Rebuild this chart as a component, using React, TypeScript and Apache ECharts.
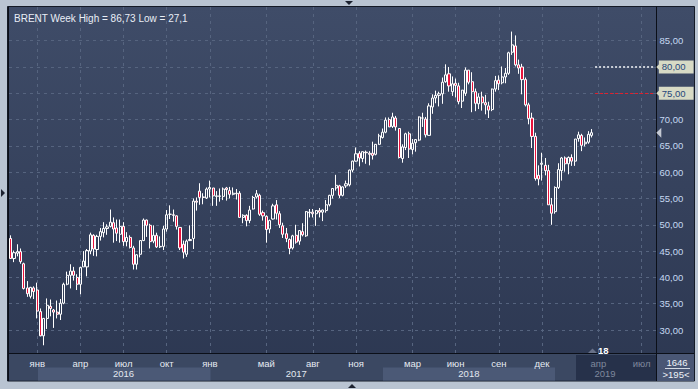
import React, { useEffect, useRef } from 'react';
import * as echarts from 'echarts';

// Weekly bars (Monday of each week), 195 visible slots
const START_WEEK = Date.UTC(2015, 10, 9);
const VISIBLE_BARS = 195;
const weeks: string[] = [];
for (let i = 0; i < VISIBLE_BARS; i++) {
  weeks.push(new Date(START_WEEK + i * 7 * 86400000).toISOString().slice(0, 10));
}

const opens = [
  47.4, 43.6, 44.6, 44.9, 42.6, 38.0, 36.4, 38.0, 37.6, 33.5,
  28.9, 32.2, 34.5, 33.8, 33.4, 33.0, 35.1, 38.7, 40.4, 41.2,
  40.0, 38.7, 42.0, 42.0, 45.0, 48.0, 45.3, 47.8, 48.5, 49.3,
  49.7, 50.4, 49.4, 48.2, 49.7, 46.8, 47.6, 45.6, 42.5, 44.4,
  47.0, 50.9, 49.9, 46.9, 48.0, 45.8, 45.9, 49.2, 52.0, 51.9,
  51.7, 49.5, 46.3, 44.4, 47.0, 47.4, 54.5, 56.4, 55.3, 55.1,
  56.8, 57.0, 55.4, 55.4, 55.4, 57.0, 56.5, 55.8, 56.0, 56.0,
  51.4, 51.8, 50.8, 53.0, 55.3, 55.6, 52.3, 51.6, 49.2, 51.1,
  53.8, 52.1, 49.8, 48.3, 47.2, 45.6, 48.0, 46.9, 48.7, 47.9,
  52.3, 52.4, 52.1, 52.7, 52.4, 52.7, 53.8, 55.6, 57.0, 57.4,
  55.6, 57.4, 57.6, 60.4, 62.1, 63.6, 62.6, 63.8, 63.6, 63.6,
  63.4, 65.3, 66.6, 67.6, 70.0, 68.7, 70.3, 68.3, 62.6, 64.7,
  67.3, 64.3, 65.6, 66.1, 70.3, 70.1, 67.0, 72.4, 74.1, 74.6,
  74.9, 77.2, 78.7, 75.3, 76.9, 76.4, 73.5, 75.0, 79.4, 77.2,
  75.3, 73.0, 74.3, 73.2, 72.6, 71.9, 75.8, 77.5, 77.0, 78.1,
  78.8, 82.8, 84.0, 80.4, 80.0, 77.6, 72.8, 70.3, 66.8, 59.4,
  61.5, 61.3, 60.3, 53.8, 52.5, 57.1, 60.3, 62.7, 61.6, 62.8,
  62.1, 66.4, 67.0, 65.4, 65.7, 67.0,
];
const highs = [
  48.0, 45.1, 46.3, 45.5, 42.8, 39.3, 38.2, 38.3, 39.0, 34.1,
  32.3, 36.0, 35.8, 34.0, 35.6, 35.9, 39.0, 41.1, 42.5, 42.0,
  40.6, 42.0, 45.0, 45.4, 48.5, 48.2, 48.1, 49.4, 50.5, 50.1,
  52.9, 51.4, 51.0, 51.0, 50.5, 48.6, 48.0, 46.0, 44.4, 47.0,
  51.2, 51.0, 50.2, 49.9, 48.5, 47.8, 49.8, 52.8, 53.7, 52.9,
  51.8, 49.6, 47.0, 47.2, 49.9, 55.0, 55.2, 57.9, 56.0, 57.1,
  58.4, 57.0, 56.4, 56.9, 57.1, 57.2, 57.2, 57.1, 56.8, 56.4,
  52.0, 52.0, 53.6, 55.5, 56.6, 55.9, 52.7, 51.8, 51.0, 54.0,
  54.7, 52.6, 50.4, 49.4, 47.4, 48.1, 50.0, 49.0, 50.3, 52.6,
  53.0, 53.0, 52.8, 53.2, 52.9, 54.7, 55.7, 56.9, 59.5, 57.6,
  57.3, 58.4, 60.5, 62.2, 64.7, 64.0, 63.9, 64.1, 64.0, 65.8,
  65.2, 67.3, 68.3, 70.4, 70.4, 71.3, 70.7, 68.4, 65.3, 67.5,
  67.7, 66.3, 66.3, 70.6, 71.3, 70.5, 73.1, 74.8, 75.5, 75.3,
  78.0, 80.5, 80.0, 78.2, 77.8, 77.0, 75.6, 79.9, 79.4, 79.0,
  75.9, 75.0, 75.3, 74.7, 73.4, 75.9, 78.3, 78.4, 80.1, 79.8,
  82.9, 86.73, 86.0, 81.4, 80.6, 78.0, 73.2, 71.3, 67.5, 61.3,
  63.7, 62.7, 61.4, 55.1, 57.3, 61.7, 62.9, 63.0, 63.0, 63.4,
  66.3, 67.7, 67.3, 66.6, 67.8, 68.2,
];
const lows = [
  43.6, 42.9, 44.0, 42.6, 37.7, 36.3, 36.0, 35.9, 32.2, 28.8,
  27.1, 30.2, 32.6, 30.4, 32.2, 31.9, 34.9, 38.5, 37.9, 39.4,
  37.6, 36.8, 42.0, 40.2, 44.4, 44.1, 44.0, 47.0, 47.6, 48.1,
  49.5, 46.6, 46.9, 46.6, 46.0, 45.9, 45.5, 41.5, 41.5, 43.8,
  46.9, 47.7, 45.5, 46.5, 45.6, 45.6, 45.2, 48.7, 51.1, 50.6,
  49.1, 45.2, 43.6, 43.9, 46.9, 45.4, 52.7, 53.8, 53.9, 54.9,
  55.2, 53.6, 53.6, 54.4, 54.7, 54.6, 55.0, 55.6, 54.8, 51.4,
  50.3, 49.7, 50.3, 52.9, 55.0, 51.7, 50.8, 46.6, 48.4, 51.0,
  51.0, 49.4, 47.5, 46.7, 44.4, 45.3, 46.4, 46.2, 47.8, 47.7,
  51.4, 51.4, 49.8, 51.4, 50.7, 52.3, 53.5, 55.0, 56.5, 55.1,
  55.4, 57.0, 57.3, 60.0, 62.0, 61.1, 61.9, 61.6, 61.3, 62.4,
  63.2, 65.2, 66.4, 67.4, 68.6, 68.4, 67.9, 62.6, 61.8, 64.2,
  62.7, 63.4, 63.9, 65.9, 68.6, 66.6, 67.0, 71.1, 73.1, 72.5,
  73.0, 77.0, 75.3, 74.5, 74.2, 72.9, 72.2, 74.5, 76.7, 71.4,
  71.6, 72.0, 71.7, 71.0, 70.3, 71.6, 75.3, 75.6, 76.7, 76.9,
  78.5, 82.3, 80.1, 78.7, 74.8, 72.5, 69.1, 64.6, 58.4, 57.5,
  58.4, 59.4, 53.8, 50.0, 52.1, 56.8, 58.4, 60.1, 59.6, 61.2,
  61.2, 65.8, 64.0, 64.9, 65.4, 66.6,
];
const closes = [
  43.6, 44.7, 44.9, 43.0, 37.9, 36.9, 38.1, 37.3, 33.6, 28.9,
  32.2, 34.7, 34.1, 33.4, 33.0, 35.1, 38.7, 40.4, 41.2, 40.4,
  38.7, 41.9, 43.1, 45.1, 48.1, 45.4, 47.8, 48.7, 49.3, 49.6,
  50.5, 49.2, 48.4, 49.7, 46.8, 47.6, 45.7, 42.5, 44.3, 47.0,
  50.9, 49.9, 46.8, 48.0, 45.8, 45.9, 49.2, 51.9, 52.0, 51.8,
  49.7, 45.6, 44.8, 46.9, 47.2, 54.5, 54.3, 55.2, 55.2, 56.8,
  57.1, 55.5, 55.5, 55.5, 56.8, 56.7, 55.8, 56.0, 55.9, 51.4,
  51.8, 50.8, 52.8, 55.2, 55.9, 52.0, 51.7, 49.1, 50.8, 53.6,
  52.2, 50.0, 48.2, 47.4, 45.5, 47.9, 46.7, 48.9, 48.1, 52.5,
  52.4, 52.1, 52.7, 52.4, 52.8, 53.8, 55.6, 56.9, 57.5, 55.6,
  57.2, 57.8, 60.4, 62.1, 63.5, 62.7, 63.9, 63.7, 63.4, 63.2,
  65.3, 66.9, 67.6, 69.9, 68.6, 70.5, 68.6, 62.8, 64.8, 67.3,
  64.4, 65.5, 66.2, 70.5, 70.3, 67.1, 72.6, 74.1, 74.6, 74.9,
  77.1, 78.5, 76.4, 76.8, 76.5, 73.4, 75.6, 79.4, 77.1, 75.3,
  73.1, 74.3, 73.2, 72.8, 71.8, 75.8, 77.4, 76.8, 78.1, 78.8,
  82.7, 84.2, 80.4, 79.8, 77.6, 72.8, 70.2, 66.8, 58.8, 58.7,
  61.7, 60.3, 53.8, 52.2, 57.1, 60.5, 62.7, 61.6, 62.8, 62.1,
  66.3, 67.1, 65.1, 65.7, 67.2, 67.5,
];

const priceTicks = [30, 35, 40, 45, 50, 55, 60, 65, 70, 75, 80, 85];
const priceLabelTicks = [30, 35, 40, 45, 50, 55, 60, 65, 70, 85];
const monthTickIndex = [8, 21, 34, 47, 60, 77, 91, 104, 121, 134, 147, 160, 177, 190];
const yearTickIndex = [34, 86, 138, 179];
const RU_MONTHS = ['янв', 'фев', 'мар', 'апр', 'май', 'июн', 'июл', 'авг', 'сен', 'окт', 'ноя', 'дек'];
const levelLines = [80, 75];
const lastPrice = 67.5;
const titleText = 'BRENT Week High = 86,73 Low = 27,1';
const totalBars = '1646';
const visibleText = '>195<';
const markerText = '18';

const FONT = "'Liberation Sans', Arial, sans-serif";
const lastDate = weeks[opens.length - 1];
const TAG_LEVEL = '#d7dac5';
const TAG_LAST = '#c4c9d3';

export default function App() {
  const ref = useRef<HTMLDivElement>(null);
  useEffect(() => {
    if (!ref.current) return;
    const chart = echarts.init(ref.current, null, { renderer: 'svg' });
    const monthSet = new Set(monthTickIndex);
    const yearSet = new Set(yearTickIndex);
    const fmt = (v: number) => v.toFixed(2).replace('.', ',');
    const candles = opens.map((o, i) => [o, closes[i], lows[i], highs[i]]);
    const lastIdx = VISIBLE_BARS - 1;

    chart.setOption({
      animation: false,
      backgroundColor: '#b9c4d2',
      textStyle: { fontFamily: FONT },
      title: {
        text: titleText,
        left: 9,
        top: 8,
        textStyle: { color: '#e9eef6', fontSize: 10, fontWeight: 'normal', fontFamily: FONT },
      },
      graphic: [
        {
          type: 'rect', z: -20, silent: true,
          shape: { x: 7.5, y: 6.5, width: 687, height: 374.5 },
          style: {
            fill: new echarts.graphic.LinearGradient(0, 0, 0, 1, [
              { offset: 0, color: '#3f4c68' },
              { offset: 1, color: '#2c3751' },
            ]),
            stroke: '#141a26', lineWidth: 1,
          },
        },
        { type: 'rect', z: -19, silent: true, shape: { x: 9, y: 354, width: 647.5, height: 26.5 }, style: { fill: '#3b4862' } },
        { type: 'rect', z: -18, silent: true, shape: { x: 38, y: 367.5, width: 172.5, height: 13 }, style: { fill: '#4b5976' } },
        { type: 'rect', z: -18, silent: true, shape: { x: 383, y: 367.5, width: 172, height: 13 }, style: { fill: '#4b5976' } },
        { type: 'rect', z: -18, silent: true, shape: { x: 576, y: 355, width: 80.5, height: 25.5 }, style: { fill: '#26314a' } },
        { type: 'rect', z: -18, silent: true, shape: { x: 657, y: 354, width: 37, height: 27 }, style: { fill: '#4a5775' } },
        { type: 'line', z: 5, silent: true, shape: { x1: 656.5, y1: 353, x2: 656.5, y2: 381 }, style: { stroke: '#0b0f18', lineWidth: 1 } },
        { type: 'line', z: 5, silent: true, shape: { x1: 656, y1: 353.5, x2: 694, y2: 353.5 }, style: { stroke: '#0b0f18', lineWidth: 1 } },
        { type: 'line', z: 5, silent: true, shape: { x1: 8.5, y1: 7, x2: 8.5, y2: 381 }, style: { stroke: '#0b0f18', lineWidth: 1 } },
        { type: 'text', z: 5, silent: true, style: { text: totalBars, x: 677, y: 362, fill: '#eef2f8', font: `9.5px ${FONT}`, textAlign: 'center', textVerticalAlign: 'middle' } },
        { type: 'line', z: 5, silent: true, shape: { x1: 665, y1: 368.5, x2: 690, y2: 368.5 }, style: { stroke: '#d3d9e3', lineWidth: 1 } },
        { type: 'text', z: 5, silent: true, style: { text: visibleText, x: 676, y: 374.5, fill: '#eef2f8', font: `9.5px ${FONT}`, textAlign: 'center', textVerticalAlign: 'middle' } },
        { type: 'polygon', z: 5, silent: true, shape: { points: [[588, 353], [597, 353], [592.5, 348.5]] }, style: { fill: '#687188' } },
        { type: 'text', z: 5, silent: true, style: { text: markerText, x: 598, y: 350, fill: '#ffffff', font: `bold 9.5px ${FONT}`, textAlign: 'left', textVerticalAlign: 'middle' } },
        { type: 'polygon', z: 5, silent: true, shape: { points: [[345, 1], [353, 1], [349, 5]] }, style: { fill: '#1c2230' } },
        { type: 'polygon', z: 5, silent: true, shape: { points: [[348, 388], [356, 388], [352, 384]] }, style: { fill: '#1c2230' } },
        { type: 'polygon', z: 5, silent: true, shape: { points: [[1, 189], [1, 197], [5, 193]] }, style: { fill: '#1c2230' } },
      ],
      grid: { left: 9, right: 41.5, top: 7, bottom: 36, containLabel: false, outerBoundsMode: 'none' },
      xAxis: [
        {
          type: 'category',
          data: weeks,
          boundaryGap: true,
          axisLine: { show: true, lineStyle: { color: '#0b0f18', width: 1 } },
          axisTick: { show: false },
          axisLabel: {
            interval: (i: number) => monthSet.has(i),
            formatter: (v: string) => RU_MONTHS[Number(v.slice(5, 7)) - 1],
            color: (v: string) => (v > lastDate ? '#7f889d' : '#e6ebf3'),
            fontSize: 9.5,
            margin: 5,
            fontFamily: FONT,
          },
          splitLine: {
            show: true,
            interval: (i: number) => monthSet.has(i),
            alignWithLabel: true,
            lineStyle: { color: '#56647f', type: [3, 4], width: 1 },
          },
        },
        {
          type: 'category',
          data: weeks,
          position: 'bottom',
          boundaryGap: true,
          axisLine: { show: false },
          axisTick: { show: false },
          axisLabel: {
            interval: (i: number) => yearSet.has(i),
            formatter: (v: string) => v.slice(0, 4),
            color: (v: string) => (v > lastDate ? '#7f889d' : '#e3e8f0'),
            fontSize: 9.5,
            margin: 15,
            fontFamily: FONT,
          },
          splitLine: { show: false },
        },
      ],
      yAxis: {
        type: 'value',
        position: 'right',
        min: 25.63,
        max: 91.4,
        axisLine: { show: true, lineStyle: { color: '#0b0f18', width: 1 } },
        axisTick: { show: false, customValues: priceTicks },
        axisLabel: {
          customValues: priceLabelTicks,
          formatter: (v: number) => fmt(v),
          color: '#c6d8f2',
          fontSize: 9.5,
          margin: 3,
          fontFamily: FONT,
        },
        splitLine: { show: true, lineStyle: { color: '#56647f', type: [3, 4], width: 1 } },
      },
      series: [
        {
          type: 'candlestick',
          data: candles,
          barWidth: 2.6,
          itemStyle: {
            color: 'rgba(0,0,0,0)',
            color0: '#e8123c',
            borderColor: '#ffffff',
            borderColor0: '#ffffff',
            borderWidth: 1,
          },
          markLine: {
            silent: true,
            symbol: ['none', 'none'],
            animation: false,
            label: {
              show: true,
              position: 'end',
              distance: 4,
              color: '#27467a',
              fontSize: 9.5,
              fontFamily: FONT,
              padding: [2, 8, 1, 3],
            },
            data: [
              [
                { coord: [opens.length, levelLines[0]], lineStyle: { color: '#c9cdd6', type: 'dotted', width: 2 }, label: { formatter: fmt(levelLines[0]), backgroundColor: TAG_LEVEL } },
                { coord: [lastIdx, levelLines[0]] },
              ],
              [
                { coord: [opens.length, levelLines[1]], lineStyle: { color: '#e2202c', type: [3, 2], width: 1 }, label: { formatter: fmt(levelLines[1]), backgroundColor: TAG_LEVEL } },
                { coord: [lastIdx, levelLines[1]] },
              ],
              [
                { coord: [lastIdx - 1, lastPrice], lineStyle: { opacity: 0, width: 0 }, label: { formatter: fmt(lastPrice), backgroundColor: TAG_LAST } },
                { coord: [lastIdx, lastPrice] },
              ],
            ],
          },
          markPoint: {
            silent: true,
            symbol: 'triangle',
            symbolSize: [10, 5],
            symbolRotate: 90,
            symbolOffset: [4, 0],
            label: { show: false },
            data: [
              { coord: [lastIdx, levelLines[0]], itemStyle: { color: TAG_LEVEL } },
              { coord: [lastIdx, levelLines[1]], itemStyle: { color: TAG_LEVEL } },
              { coord: [lastIdx, lastPrice], itemStyle: { color: TAG_LAST } },
            ],
          },
        },
      ],
    });
    return () => chart.dispose();
  }, []);
  return <div ref={ref} style={{ position: 'fixed', left: 0, top: 0, width: 698, height: 389 }} />;
}
